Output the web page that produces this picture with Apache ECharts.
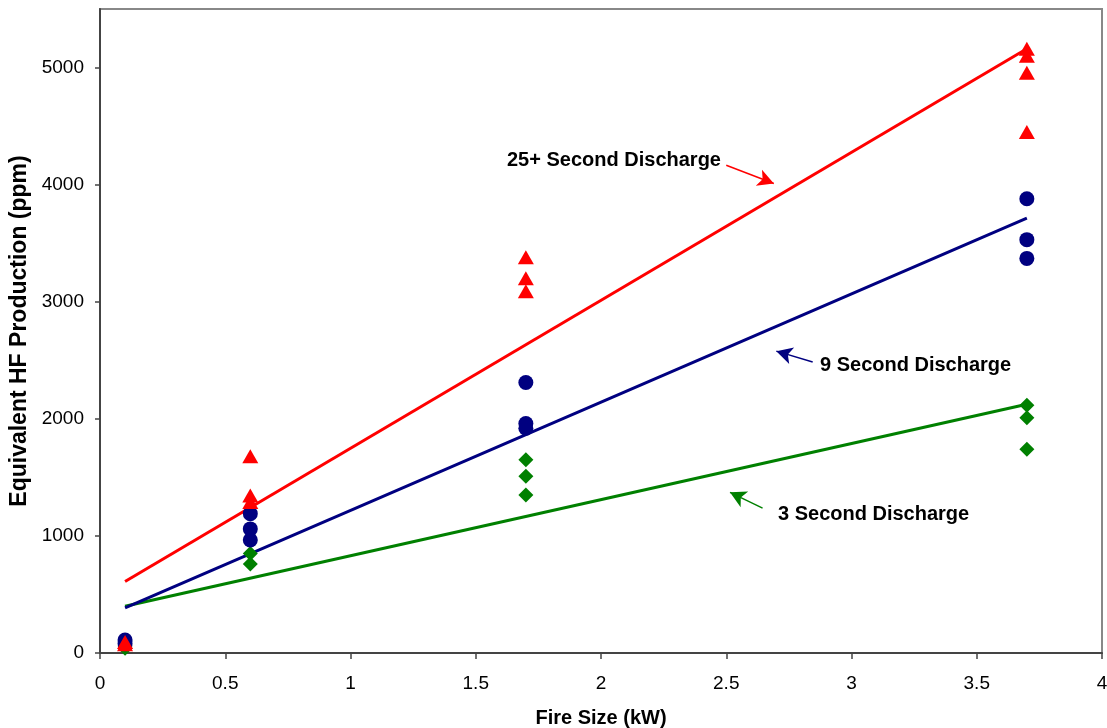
<!DOCTYPE html>
<html>
<head>
<meta charset="utf-8">
<script src="https://cdn.jsdelivr.net/npm/echarts@6/dist/echarts.min.js"></script>
<style>
  html, body { margin: 0; padding: 0; background: #fff; }
  #chart { width: 1107px; height: 728px; }
</style>
</head>
<body>
<div id="chart"></div>
<script>
// measured points, x = fire size (kW), y = HF (ppm)
var red25 = [[0.1, 95], [0.1, 75], [0.6, 1680], [0.6, 1345], [0.6, 1290],
             [1.7, 3380], [1.7, 3200], [1.7, 3090],
             [3.7, 5160], [3.7, 5100], [3.7, 4955], [3.7, 4450]];
var blue9 = [[0.1, 110], [0.1, 80], [0.6, 1190], [0.6, 1060], [0.6, 965],
             [1.7, 2310], [1.7, 1960], [1.7, 1920],
             [3.7, 3880], [3.7, 3530], [3.7, 3370]];
var green3 = [[0.1, 40], [0.1, 60], [0.6, 850], [0.6, 760],
              [1.7, 1650], [1.7, 1510], [1.7, 1350],
              [3.7, 2115], [3.7, 2010], [3.7, 1740]];

// trend line ends
var trendX = [0.1, 3.7];
var trend25 = [610, 5160];
var trend9 = [385, 3715];
var trend3 = [400, 2125];

var yTicks = [0, 1000, 2000, 3000, 4000, 5000];

// annotation arrows [from, to] in data units
var arrow25 = [[2.50, 4165], [2.69, 4010]];
var arrow9 = [[2.845, 2485], [2.70, 2578]];
var arrow3 = [[2.645, 1237], [2.515, 1372]];

function pairs(xs, ys) {
  return xs.map(function (x, i) { return [x, ys[i]]; });
}

var myChart = echarts.init(document.getElementById('chart'));

function trend(name, color, ys, arrow) {
  return {
    name: name, type: 'line', data: pairs(trendX, ys),
    symbol: 'none', z: 1,
    lineStyle: { color: color, width: 3 },
    markLine: {
      silent: true, symbol: ['none', 'arrow'], symbolSize: [13, 16],
      lineStyle: { color: color, width: 1.5, type: 'solid' },
      label: { show: false },
      data: [[{ coord: arrow[0] }, { coord: arrow[1] }]]
    }
  };
}

var labelFont = { fontFamily: 'Liberation Sans', fontSize: 19, color: '#000' };

var option = {
  animation: false,
  grid: {
    left: 100, right: 5, top: 9, bottom: 75, outerBoundsMode: 'none', containLabel: false,
    show: true, borderColor: '#888', borderWidth: 2, backgroundColor: 'transparent'
  },
  xAxis: {
    type: 'value', min: 0, max: 4, interval: 0.5,
    name: 'Fire Size (kW)', nameLocation: 'middle', nameGap: 55,
    nameTextStyle: { fontFamily: 'Liberation Sans', fontWeight: 'bold', fontSize: 20, color: '#000' },
    axisLine: { show: true, lineStyle: { color: '#444', width: 2 } },
    axisTick: { show: true, length: 6, lineStyle: { color: '#444', width: 1.5 } },
    axisLabel: Object.assign({ margin: 21 }, labelFont),
    splitLine: { show: false }
  },
  yAxis: {
    type: 'value', min: 0, max: 5500, interval: 1000,
    name: 'Equivalent HF Production (ppm)', nameLocation: 'middle', nameGap: 68,
    nameTextStyle: { fontFamily: 'Liberation Sans', fontWeight: 'bold', fontSize: 23, color: '#000' },
    axisLine: { show: true, lineStyle: { color: '#444', width: 2 } },
    axisTick: { show: true, length: 5, customValues: yTicks, lineStyle: { color: '#444', width: 1.5 } },
    axisLabel: Object.assign({
      margin: 16, customValues: yTicks,
      formatter: function (v) { return String(v); }
    }, labelFont),
    splitLine: { show: false }
  },
  graphic: [
    { type: 'text', left: 507, top: 150, style: { text: '25+ Second Discharge', font: 'bold 20px "Liberation Sans"', fill: '#000' } },
    { type: 'text', left: 820, top: 355, style: { text: '9 Second Discharge', font: 'bold 20px "Liberation Sans"', fill: '#000' } },
    { type: 'text', left: 778, top: 504, style: { text: '3 Second Discharge', font: 'bold 20px "Liberation Sans"', fill: '#000' } }
  ],
  series: [
    trend('3 s fit', '#008000', trend3, arrow3),
    trend('9 s fit', '#000080', trend9, arrow9),
    trend('25+ s fit', '#ff0000', trend25, arrow25),
    {
      name: '3 Second', type: 'scatter', data: green3, symbol: 'diamond', symbolSize: 15, z: 2,
      itemStyle: { color: '#008000', opacity: 1 }
    },
    {
      name: '9 Second', type: 'scatter', data: blue9, symbol: 'circle', symbolSize: 15, z: 3,
      itemStyle: { color: '#000080', opacity: 1 }
    },
    {
      name: '25+ Second', type: 'scatter', data: red25, symbol: 'triangle', symbolSize: [16, 14], z: 4,
      itemStyle: { color: '#ff0000', opacity: 1 }
    }
  ]
};

myChart.setOption(option);
</script>
</body>
</html>
